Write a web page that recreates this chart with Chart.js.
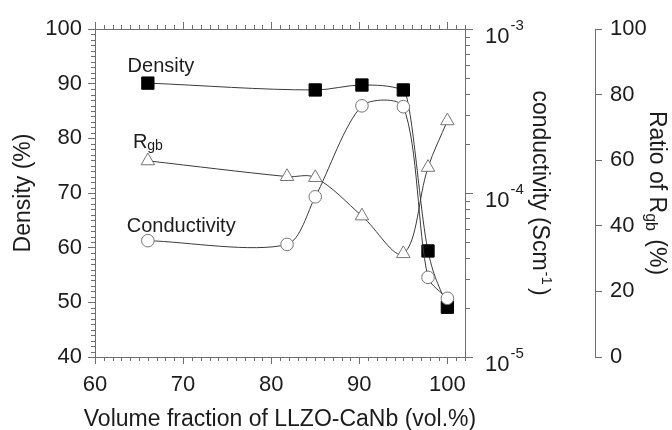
<!DOCTYPE html>
<html>
<head>
<meta charset="utf-8">
<script src="https://cdn.jsdelivr.net/npm/chart.js@4.4.1/dist/chart.umd.min.js"></script>
<style>
  html, body { margin: 0; padding: 0; background: #ffffff; }
  canvas { display: block; }
</style>
</head>
<body>
<canvas id="c" width="672" height="430"></canvas>
<script>
// ---------------- data ----------------
const fractionX      = [66, 81.8, 85, 90.3, 95, 97.8, 100];          // vol.% LLZO-CaNb
const densityX       = [66, 85, 90.3, 95, 97.8, 100];
const densityPct     = [90.1, 88.85, 89.75, 88.85, 59.4, 49.1];       // %
const conductivity   = [5.12e-5, 4.86e-5, 9.48e-5, 3.40e-4, 3.36e-4, 3.06e-5, 2.28e-5]; // S/cm
const rgbRatio       = [59.8, 55.0, 54.7, 43.0, 31.5, 57.8, 72.0];    // %
const xTicks         = [60, 70, 80, 90, 100];
const densityTicks   = [40, 50, 60, 70, 80, 90, 100];
const condTickValues = [1e-5, 1e-4, 1e-3];
const condTickExp    = ['-5', '-4', '-3'];
const ratioTicks     = [0, 20, 40, 60, 80, 100];
const seriesLabels   = ['Density', 'R', 'Conductivity'];
const xTitle         = 'Volume fraction of LLZO-CaNb (vol.%)';

// ---------------- styles ----------------
const FONT = '"Liberation Sans", Arial, Helvetica, sans-serif';
const INK = '#1c1c1c';
const AXIS = '#6e6e6e';
const LINE = '#3a3a3a';
const MARK = '#757575';

function richText(ctx, segs, x, y, rot, align) {
  ctx.save();
  ctx.translate(x, y);
  ctx.rotate(rot);
  let total = 0;
  for (const s of segs) {
    ctx.font = s.size + 'px ' + FONT;
    s.w = ctx.measureText(s.text).width;
    total += s.w + (s.gap || 0);
  }
  let cx = align === 'center' ? -total / 2 : 0;
  ctx.textAlign = 'left';
  ctx.textBaseline = 'alphabetic';
  ctx.fillStyle = INK;
  for (const s of segs) {
    ctx.font = s.size + 'px ' + FONT;
    ctx.fillText(s.text, cx, s.dy || 0);
    cx += s.w + (s.gap || 0);
  }
  ctx.restore();
}

const framePlugin = {
  id: 'framePlugin',
  afterDraw(chart) {
    const { ctx, chartArea: a, scales } = chart;
    const sx = scales.x, sy = scales.y, sc = scales.y1;
    ctx.save();
    ctx.strokeStyle = AXIS;
    ctx.lineWidth = 1;
    ctx.beginPath();
    // top frame line
    const ty = Math.round(a.top) + 0.5;
    ctx.moveTo(a.left, ty); ctx.lineTo(a.right, ty);
    // x minor ticks (bottom + top) and top major ticks
    for (let v = Math.ceil(sx.min); v <= sx.max; v++) {
      const px = Math.round(sx.getPixelForValue(v)) + 0.5;
      const major = v % 10 === 0;
      if (!major) {
        ctx.moveTo(px, a.bottom); ctx.lineTo(px, a.bottom + 4);
      }
      ctx.moveTo(px, a.top); ctx.lineTo(px, a.top - (major ? 7 : 4));
    }
    // left minor ticks
    for (let v = Math.ceil(sy.min); v <= sy.max; v++) {
      if (v % 10 === 0) continue;
      const py = Math.round(sy.getPixelForValue(v)) + 0.5;
      ctx.moveTo(a.left, py); ctx.lineTo(a.left - 4, py);
    }
    // right log minor ticks
    for (let e = -5; e < -3; e++) {
      for (let m = 2; m <= 9; m++) {
        const py = Math.round(sc.getPixelForValue(m * Math.pow(10, e))) + 0.5;
        ctx.moveTo(a.right, py); ctx.lineTo(a.right + 5, py);
      }
    }
    ctx.stroke();
    ctx.restore();

    // log tick labels with superscripts
    condTickValues.forEach((v, i) => {
      const py = sc.getPixelForValue(v);
      richText(ctx, [
        { text: '10', size: 22, gap: 1 },
        { text: condTickExp[i], size: 15, dy: -12.5 }
      ], a.right + 20, py + 13.5, 0, 'left');
    });

    // x axis title (drawn unsqueezed)
    richText(ctx, [{ text: xTitle, size: 23 }], (a.left + a.right) / 2, sx.bottom - 4, 0, 'center');

    // right-hand axis titles
    const y1 = scales.y1, y2 = scales.y2;
    const midY = (a.top + a.bottom) / 2;
    richText(ctx, [
      { text: 'conductivity (Scm', size: 23, gap: 1 },
      { text: '-1', size: 15, dy: -9, gap: 3 },
      { text: ')', size: 23 }
    ], y1.left + 68, midY, Math.PI / 2, 'center');
    richText(ctx, [
      { text: 'Ratio of R', size: 23 },
      { text: 'gb', size: 16, dy: 4, gap: 2 },
      { text: ' (%)', size: 23 }
    ], y2.left + 55, midY, Math.PI / 2, 'center');

    // in-plot series labels
    const lab = (xv, yv) => [sx.getPixelForValue(xv), sy.getPixelForValue(yv)];
    let p = lab(63.7, 92.2);
    richText(ctx, [{ text: seriesLabels[0], size: 20 }], p[0], p[1], 0, 'left');
    p = lab(64.3, 78.3);
    richText(ctx, [{ text: seriesLabels[1], size: 20 }, { text: 'gb', size: 14, dy: 2 }], p[0], p[1], 0, 'left');
    p = lab(63.6, 62.8);
    richText(ctx, [{ text: seriesLabels[2], size: 20 }], p[0], p[1], 0, 'left');
  }
};

const gridCommon = (len) => ({
  drawOnChartArea: false, drawTicks: true, tickLength: len,
  color: AXIS, tickColor: AXIS, lineWidth: 1, tickWidth: 1
});

new Chart(document.getElementById('c'), {
  type: 'line',
  data: {
    datasets: [
      {
        label: 'Conductivity',
        data: fractionX.map((x, i) => ({ x, y: conductivity[i] })),
        yAxisID: 'y1', xAxisID: 'x', order: 0,
        borderColor: LINE, borderWidth: 1, tension: 0.28,
        pointStyle: 'circle', pointRadius: 6.3,
        pointBackgroundColor: '#ffffff', pointBorderColor: MARK, pointBorderWidth: 1
      },
      {
        label: 'Density',
        data: densityX.map((x, i) => ({ x, y: densityPct[i] })),
        yAxisID: 'y', xAxisID: 'x', order: 1,
        borderColor: LINE, borderWidth: 1, cubicInterpolationMode: 'monotone',
        pointStyle: 'rect', pointRadius: 8.7,
        pointBackgroundColor: '#000000', pointBorderColor: '#000000', pointBorderWidth: 1
      },
      {
        label: 'Rgb',
        data: fractionX.map((x, i) => ({ x, y: rgbRatio[i] })),
        yAxisID: 'y2', xAxisID: 'x', order: 2,
        borderColor: LINE, borderWidth: 1, tension: 0.35,
        pointStyle: 'triangle', pointRadius: 7.8,
        pointBackgroundColor: '#ffffff', pointBorderColor: MARK, pointBorderWidth: 1
      }
    ]
  },
  options: {
    responsive: false,
    animation: false,
    devicePixelRatio: 1,
    layout: { padding: { top: 29, left: 0, right: 0, bottom: 0 } },
    plugins: { legend: { display: false }, tooltip: { enabled: false } },
    scales: {
      x: {
        type: 'linear', position: 'bottom', min: 60, max: 102,
        afterFit(s) { s.height = 73; },
        afterBuildTicks(s) { s.ticks = xTicks.map(v => ({ value: v })); },
        ticks: { font: { family: FONT, size: 22 }, color: INK, padding: 8, autoSkip: false, maxRotation: 0 },
        grid: gridCommon(7),
        border: { color: AXIS, width: 1 },
        title: { display: false }
      },
      y: {
        type: 'linear', position: 'left', min: 40, max: 100,
        afterFit(s) { s.width = 95; },
        afterBuildTicks(s) { s.ticks = densityTicks.map(v => ({ value: v })); },
        ticks: { font: { family: FONT, size: 22 }, color: INK, padding: 6, autoSkip: false },
        grid: gridCommon(7),
        border: { color: AXIS, width: 1 },
        title: { display: true, text: 'Density (%)', color: INK,
                 font: { family: FONT, size: 23, lineHeight: 1 }, padding: { top: 12, bottom: 0 } }
      },
      y1: {
        type: 'logarithmic', position: 'right', min: 1e-5, max: 1e-3,
        afterFit(s) { s.width = 130; },
        afterBuildTicks(s) { s.ticks = condTickValues.map(v => ({ value: v })); },
        ticks: { display: false },
        grid: gridCommon(8),
        border: { color: AXIS, width: 1 }
      },
      y2: {
        type: 'linear', position: 'right', min: 0, max: 100,
        afterFit(s) { s.width = 77; },
        afterBuildTicks(s) { s.ticks = ratioTicks.map(v => ({ value: v })); },
        ticks: { font: { family: FONT, size: 22 }, color: INK, padding: 8, autoSkip: false },
        grid: gridCommon(7),
        border: { color: AXIS, width: 1 }
      }
    }
  },
  plugins: [framePlugin]
});
</script>
</body>
</html>
